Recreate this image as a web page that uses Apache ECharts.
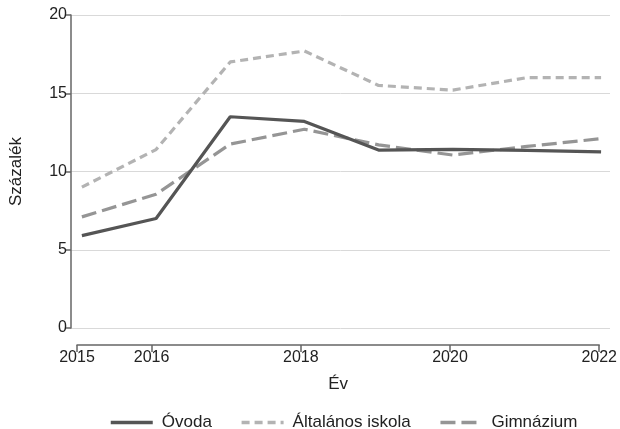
<!DOCTYPE html>
<html>
<head>
<meta charset="utf-8">
<script src="https://cdn.jsdelivr.net/npm/echarts@6/dist/echarts.min.js"></script>
<style>html,body{margin:0;padding:0;background:#fff}#c{width:620px;height:429px}</style>
</head>
<body>
<div id="c"></div>
<script>
const years = [2015, 2016, 2017, 2018, 2019, 2020, 2021, 2022];
const ovoda = [5.9, 7.0, 13.5, 13.2, 11.37, 11.42, 11.35, 11.25];
const altalanos = [9.0, 11.4, 17.0, 17.7, 15.5, 15.2, 16.0, 16.0];
const gimnazium = [7.1, 8.55, 11.75, 12.7, 11.7, 11.05, 11.6, 12.1];
const xTickLabels = [2015, 2016, 2018, 2020, 2022];
const seriesNames = ['Óvoda', 'Általános iskola', 'Gimnázium'];

const font = 'Liberation Sans, Arial, sans-serif';
const pairs = arr => years.map((y, i) => [y, arr[i]]);

const chart = echarts.init(document.getElementById('c'), null, {renderer: 'canvas'});
chart.setOption({
  animation: false,
  textStyle: {fontFamily: font},
  grid: [
    {left: 66, right: 10, top: 15, height: 313},
    {left: 77, width: 524, top: 344, height: 1}
  ],
  xAxis: [
    {gridIndex: 0, type: 'value', min: 2014.8531, max: 2022.1202, show: false},
    {gridIndex: 1, type: 'value', min: 2015, max: 2022, interval: 1,
     name: 'Év', nameLocation: 'middle', nameGap: 31,
     nameTextStyle: {fontSize: 17, color: '#222', fontFamily: font},
     axisLine: {show: true, lineStyle: {color: '#666', width: 1.5}},
     axisTick: {show: true, length: 7, customValues: xTickLabels, lineStyle: {color: '#666', width: 1.5}},
     axisLabel: {customValues: xTickLabels, fontSize: 16, color: '#222', margin: 5, fontFamily: font,
                 formatter: v => String(v)},
     splitLine: {show: false}}
  ],
  yAxis: [
    {gridIndex: 0, type: 'value', min: 0, max: 20, interval: 5,
     name: 'Százalék', nameLocation: 'middle', nameRotate: 90, nameGap: 46,
     nameTextStyle: {fontSize: 17, color: '#222', fontFamily: font},
     axisLine: {show: true, lineStyle: {color: '#666', width: 1.5}},
     axisTick: {show: true, length: 6, lineStyle: {color: '#666', width: 1.5}},
     axisLabel: {fontSize: 16, color: '#222', margin: 4, fontFamily: font},
     splitLine: {show: true, lineStyle: {color: '#d9d9d9', width: 1}}},
    {gridIndex: 1, type: 'value', show: false}
  ],
  legend: {
    top: 409, left: 104, itemWidth: 42, itemHeight: 12, itemGap: 28,
    itemStyle: {opacity: 0},
    lineStyle: {width: 3.5},
    textStyle: {fontSize: 17, color: '#222', fontFamily: font, padding: [0, 0, 0, 4]},
    data: seriesNames
  },
  series: [
    {name: seriesNames[0], type: 'line', data: pairs(ovoda), symbol: 'none',
     color: '#555555', lineStyle: {color: '#555555', width: 3.2, type: 'solid'}, z: 3},
    {name: seriesNames[1], type: 'line', data: pairs(altalanos), symbol: 'none',
     color: '#b3b3b3', lineStyle: {color: '#b3b3b3', width: 3.2, type: [8, 5]}, z: 2},
    {name: seriesNames[2], type: 'line', data: pairs(gimnazium), symbol: 'none',
     color: '#959595', lineStyle: {color: '#959595', width: 3.2, type: [15, 6]}, z: 2}
  ]
});
</script>
</body>
</html>
